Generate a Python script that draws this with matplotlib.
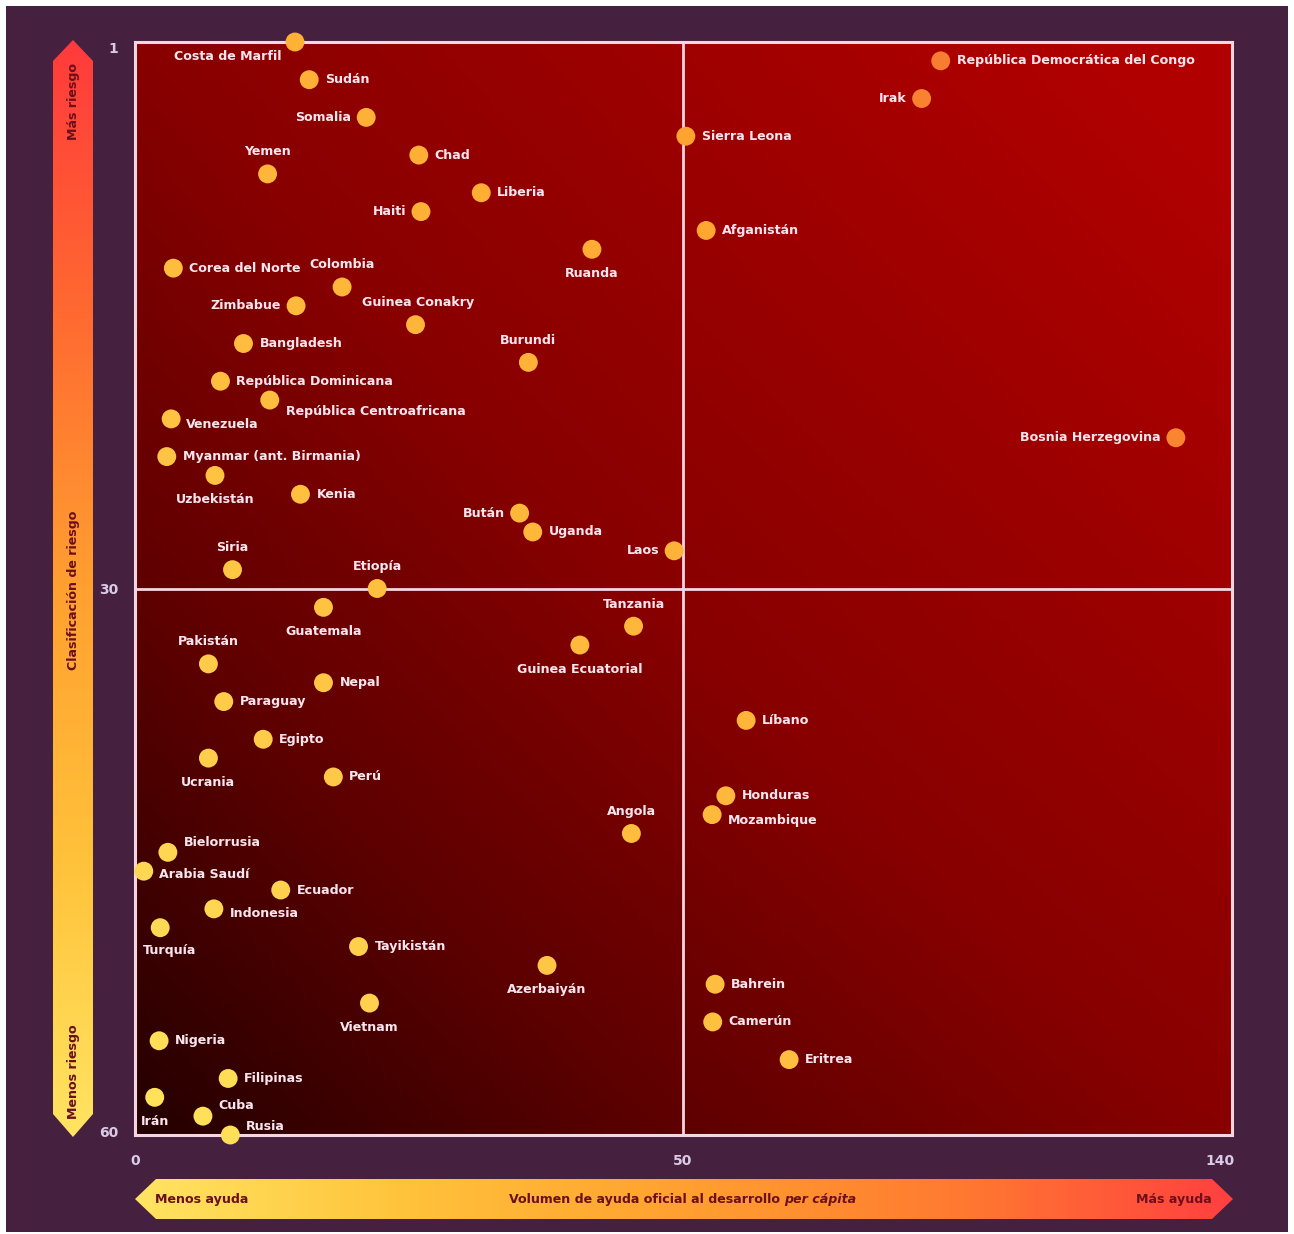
import numpy as np
import matplotlib
matplotlib.use("Agg")
import matplotlib.pyplot as plt
from matplotlib.colors import LinearSegmentedColormap
from matplotlib.patches import Polygon, Rectangle

# === Datos ===
paises = [
    "Costa de Marfil", "República Democrática del Congo", "Sudán", "Irak", "Somalia",
    "Sierra Leona", "Chad", "Yemen", "Liberia", "Haiti",
    "Afganistán", "Ruanda", "Corea del Norte", "Colombia", "Zimbabue",
    "Guinea Conakry", "Bangladesh", "Burundi", "República Dominicana", "República Centroafricana",
    "Venezuela", "Bosnia Herzegovina", "Myanmar (ant. Birmania)", "Uzbekistán", "Kenia",
    "Bután", "Uganda", "Laos", "Siria", "Etiopía",
    "Guatemala", "Tanzania", "Guinea Ecuatorial", "Pakistán", "Nepal",
    "Paraguay", "Líbano", "Egipto", "Ucrania", "Perú",
    "Honduras", "Mozambique", "Angola", "Bielorrusia", "Arabia Saudí",
    "Ecuador", "Indonesia", "Turquía", "Tayikistán", "Azerbaiyán",
    "Bahrein", "Vietnam", "Camerún", "Nigeria", "Eritrea",
    "Filipinas", "Irán", "Cuba", "Rusia",
]
riesgo = list(range(1, 60))
ayuda = [
    14.6, 93.2, 15.9, 90.0, 21.1,
    50.5, 25.9, 12.1, 31.6, 26.1,
    53.9, 41.7, 3.5, 18.9, 14.7,
    25.6, 9.9, 35.9, 7.8, 12.3,
    3.3, 132.6, 2.9, 7.3, 15.1,
    35.1, 36.3, 49.2, 8.9, 22.1,
    17.2, 45.5, 40.6, 6.7, 17.2,
    8.1, 60.6, 11.7, 6.7, 18.1,
    57.2, 54.9, 45.3, 3.0, 0.8,
    13.3, 7.2, 2.3, 20.4, 37.6,
    55.4, 21.4, 55.0, 2.2, 67.8,
    8.5, 1.8, 6.2, 8.7,
]

# posicion de las etiquetas (dx, dy en pixeles, ha)
R, L, A, B = (16, 0, "left"), (-15, 0, "right"), (0, 22, "center"), (0, -24, "center")
etiquetas_pos = [
    (-13, -14, "right"), R, R, L, L,
    R, R, A, R, L,
    R, B, R, A, L,
    (3, 22, "center"), R, A, R, (16, -11, "left"),
    (15, -6, "left"), L, R, B, R,
    L, R, L, A, A,
    B, A, B, A, R,
    R, R, R, B, R,
    R, (16, -6, "left"), A, (16, 10, "left"), (15, -3, "left"),
    R, (16, -5, "left"), (-17, -23, "left"), R, B,
    R, B, R, R, R,
    R, B, (15, 11, "left"), (16, 9, "left"),
]

# === Estilo ===
W, H = 1294, 1234
FONDO = "#45213f"
LINEA = "#f3d6e2"
TEXTO = "#fbe6ef"
OSCURO = "#6b0f1c"
FS = 9.1

plt.rcParams["font.family"] = ["DejaVu Sans"]
plt.rcParams["font.weight"] = "bold"

def px(x, y):
    # pixeles de la imagen -> coordenadas de figura
    return x / W, 1 - y / H

# escala x partida: 0-50 ocupa la mitad izquierda
K = 5.97 / 10.96
def fwd(x):
    x = np.asarray(x, float)
    return np.where(x <= 50, x, 50 + (x - 50) * K)
def inv(y):
    y = np.asarray(y, float)
    return np.where(y <= 50, y, 50 + (y - 50) / K)

fig = plt.figure(figsize=(W / 100, H / 100), dpi=100, facecolor="white")
fig.patches.append(Rectangle(px(6, 1232), 1282 / W, 1226 / H, transform=fig.transFigure,
                             facecolor=FONDO, edgecolor="none", zorder=-10))

x0, y1 = px(135, 1135)
x1, y0 = px(1232, 42)
ax = fig.add_axes([x0, y1, x1 - x0, y0 - y1])
ax.set_xscale("function", functions=(fwd, inv))
ax.set_xlim(0, 142)
ax.set_ylim(59, 1)

# degradado del fondo
fondo_cmap = LinearSegmentedColormap.from_list(
    "fondo", ["#240000", "#5e0000", "#880000", "#9c0000", "#b00000"])
gx, gy = np.meshgrid(np.linspace(0, 1, 300), np.linspace(0, 1, 300))
t = np.clip((gx + gy) / 2 + 0.08 * gx * gy, 0, 1)
ax.imshow(fondo_cmap(t), extent=[0, 1, 0, 1], origin="lower", transform=ax.transAxes,
          aspect="auto", zorder=0)

ax.axvline(50, color=LINEA, lw=2, zorder=1)
ax.axhline(30, color=LINEA, lw=2, zorder=1)
for s in ax.spines.values():
    s.set_color(LINEA)
    s.set_linewidth(2.2)

# puntos
punto_cmap = LinearSegmentedColormap.from_list("puntos", ["#ffe45c", "#ffc040", "#ffa630", "#f25a32"])
xf = fwd(ayuda) / fwd(142)
rr = 1 - (np.array(riesgo) - 1) / 58
col = punto_cmap(np.clip(0.45 * rr + 0.55 * xf, 0, 1))
ax.scatter(ayuda, riesgo, s=185, c=col, edgecolors="none", zorder=3, clip_on=False)

for nombre, xv, yv, (dx, dy, ha) in zip(paises, ayuda, riesgo, etiquetas_pos):
    ax.annotate(nombre, (xv, yv), xytext=(dx, dy), textcoords="offset pixels",
                ha=ha, va="center", color=TEXTO, fontsize=FS, fontweight="bold",
                zorder=4, annotation_clip=False)

# ejes
ax.set_xticks([0, 50, 140])
ax.set_xticklabels(["0", "50", "140"])
ax.set_yticks([1.3, 30, 58.8])
ax.set_yticklabels(["1", "30", "60"])
ax.tick_params(length=0, colors="#d9cbe6", labelsize=10)
ax.tick_params(axis="x", pad=14)
ax.tick_params(axis="y", pad=12)


def flecha(verts_px, colores, vertical):
    xs = [v[0] for v in verts_px]
    ys = [v[1] for v in verts_px]
    bx0, by1 = px(min(xs), max(ys))
    bx1, by0 = px(max(xs), min(ys))
    fa = fig.add_axes([bx0, by1, bx1 - bx0, by0 - by1])
    fa.set_axis_off()
    fa.set_xlim(0, 1)
    fa.set_ylim(0, 1)
    cm = LinearSegmentedColormap.from_list("f", colores)
    g = np.linspace(0, 1, 256)
    img = cm(g)[:, None, :] if vertical else cm(g)[None, :, :]
    im = fa.imshow(img, extent=[0, 1, 0, 1], origin="lower", aspect="auto")
    norm = [((v[0] - min(xs)) / (max(xs) - min(xs)), (max(ys) - v[1]) / (max(ys) - min(ys)))
            for v in verts_px]
    poly = Polygon(norm, closed=True, transform=fa.transAxes, facecolor="none", edgecolor="none")
    fa.add_patch(poly)
    im.set_clip_path(poly)
    return fa


# flecha vertical (riesgo)
flecha([(73, 40), (93, 61), (93, 1114), (73, 1137), (53, 1114), (53, 61)],
       ["#ffe462", "#ffc23a", "#ffa030", "#ff6a30", "#ff3a3c"], vertical=True)
for txt, yy in [("Más riesgo", 102), ("Clasificación de riesgo", 590), ("Menos riesgo", 1072)]:
    fig.text(*px(74, yy), txt, rotation=90, ha="center", va="center",
             color=OSCURO, fontsize=FS, fontweight="bold")

# flecha horizontal (ayuda)
flecha([(135, 1199), (156, 1179), (1212, 1179), (1233, 1199), (1212, 1219), (156, 1219)],
       ["#ffe462", "#ffc23a", "#ffa030", "#ff7a30", "#ff4040"], vertical=False)
fig.text(*px(155, 1199), "Menos ayuda", ha="left", va="center", color=OSCURO,
         fontsize=FS, fontweight="bold")
fig.text(*px(1212, 1199), "Más ayuda", ha="right", va="center", color=OSCURO,
         fontsize=FS, fontweight="bold")
fig.text(*px(784, 1199), "Volumen de ayuda oficial al desarrollo ", ha="right", va="center",
         color=OSCURO, fontsize=FS, fontweight="bold")
fig.text(*px(784, 1199), "per cápita", ha="left", va="center", color=OSCURO,
         fontsize=FS, fontweight="bold", fontstyle="italic")

fig.savefig("out.png", dpi=100, facecolor=fig.get_facecolor())
